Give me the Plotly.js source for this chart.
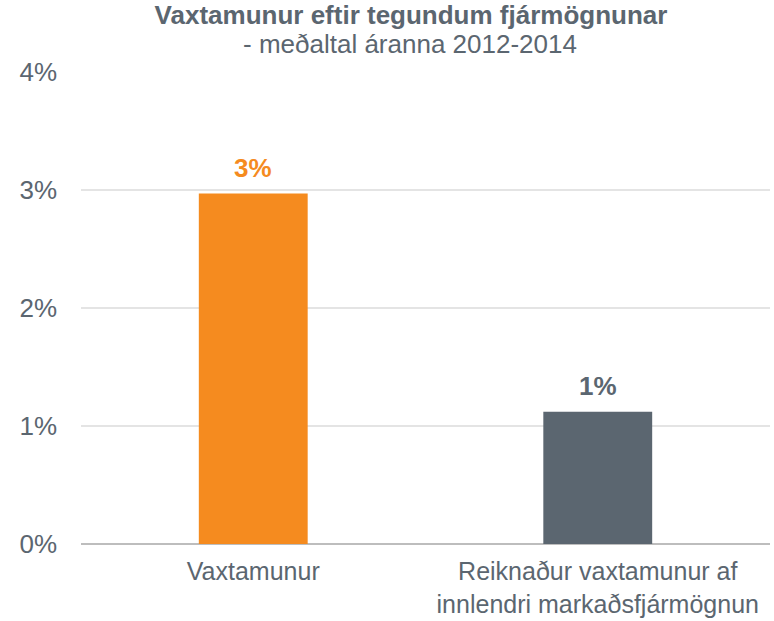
<!DOCTYPE html>
<html>
<head>
<meta charset="utf-8">
<script src="https://cdn.plot.ly/plotly-3.0.1.min.js"></script>
<style>html,body{margin:0;padding:0;background:#fff;}#chart{width:774px;height:621px;}</style>
</head>
<body>
<div id="chart"></div>
<script>
var categories = ["Vaxtamunur", "Reiknaður vaxtamunur af<br>innlendri markaðsfjármögnun"];
var values = [0.0297, 0.0112];
var barColors = ["#f58b1f", "#5b6670"];
var yTickVals = [0, 0.01, 0.02, 0.03, 0.04];
var yTickText = ["0%", "1%", "2%", "3%", "4%"];
var titleMain = "Vaxtamunur eftir tegundum fjármögnunar";
var titleSub = "- meðaltal áranna 2012-2014";

var textColor = "#5b6670";
var fontFam = "Liberation Sans, Arial, sans-serif";

var trace = {
  type: "bar",
  x: categories,
  y: values,
  width: 0.316,
  marker: {color: barColors},
  hoverinfo: "none"
};

var annotations = categories.map(function (c, i) {
  return {
    x: c, y: values[i], xref: "x", yref: "y",
    text: "<b>" + Math.round(values[i] * 100) + "%</b>",
    showarrow: false, yanchor: "bottom", yshift: 9,
    font: {family: fontFam, size: 26, color: barColors[i]}
  };
});
annotations.push({
  x: 0.478, xref: "paper", xanchor: "center",
  y: 1, yref: "paper", yanchor: "middle", yshift: 28,
  text: titleSub, showarrow: false,
  font: {family: fontFam, size: 26, color: textColor}
});

var layout = {
  width: 774, height: 621,
  margin: {l: 81, r: 4, t: 72, b: 77},
  paper_bgcolor: "#fff", plot_bgcolor: "#fff",
  font: {family: fontFam, color: textColor, size: 26},
  title: {
    text: "<b>" + titleMain + "</b>",
    font: {family: fontFam, size: 26, color: textColor},
    x: 0.531, xref: "container", xanchor: "center",
    y: 1 - 15 / 621, yref: "container", yanchor: "middle"
  },
  xaxis: {
    type: "category",
    range: [-0.5, 1.5],
    showgrid: false,
    showline: false,
    zeroline: false,
    ticks: "",
    tickfont: {family: fontFam, size: 25, color: textColor},
    ticklabelstandoff: 10
  },
  yaxis: {
    range: [0, 0.04],
    tickvals: yTickVals,
    ticktext: yTickText,
    showgrid: true,
    gridcolor: "#e4e4e4",
    gridwidth: 1.5,
    zeroline: true,
    zerolinecolor: "#bdbdbd",
    zerolinewidth: 2,
    showline: false,
    ticks: "",
    tickfont: {family: fontFam, size: 26, color: textColor},
    ticklabelstandoff: 23
  },
  annotations: annotations,
  showlegend: false,
  bargap: 0.5
};

Plotly.newPlot("chart", [trace], layout, {displayModeBar: false, staticPlot: true});
</script>
</body>
</html>
